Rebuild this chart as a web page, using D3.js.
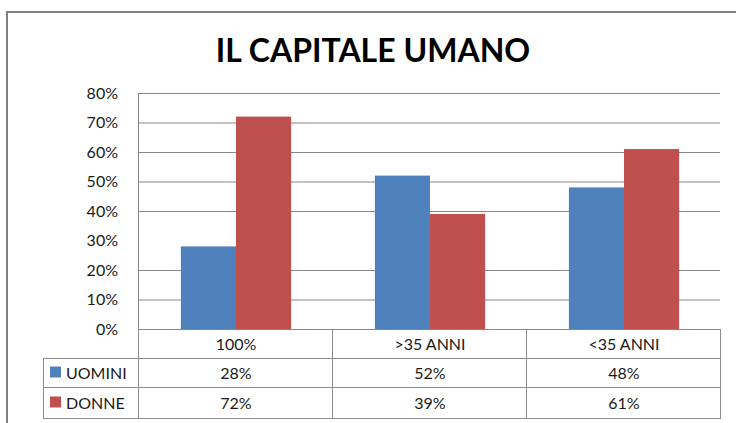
<!DOCTYPE html>
<html><head><meta charset="utf-8">
<script src="https://cdn.jsdelivr.net/npm/d3@7"></script>
<style>body{margin:0;background:#fff}svg{display:block}</style>
</head><body>
<svg id="c" width="736" height="423"></svg>
<script>
const categories = ["100%", ">35 ANNI", "<35 ANNI"];
const seriesNames = ["UOMINI", "DONNE"];
const uomini = [28, 52, 48];
const donne = [72, 39, 61];
const tickValues = [0, 10, 20, 30, 40, 50, 60, 70, 80];
const colors = ["#4F81BD", "#C0504D"];
const title = "IL CAPITALE UMANO";

(function () {
const svg = d3.select("#c");
const font = "Lato, 'Open Sans', sans-serif";
svg.append("rect").attr("x", 7).attr("y", 12).attr("width", 760).attr("height", 440)
  .attr("fill", "none").attr("stroke", "#7f7f7f").attr("stroke-width", 2);

svg.append("text").attr("x", 373).attr("y", 62).attr("text-anchor", "middle")
  .attr("font-family", font).attr("font-weight", "bold").attr("font-size", 32)
  .attr("fill", "#000").text(title);

const pLeft = 139, pRight = 721, pTop = 93, pBottom = 329;
const x = d3.scaleBand().domain(categories).range([pLeft, pRight]).paddingInner(0).paddingOuter(0);
const y = d3.scaleLinear().domain([0, 80]).range([pBottom, pTop]);
const xs = d3.scaleBand().domain(seriesNames).range([0, x.bandwidth()]).paddingInner(0).paddingOuter(0.76);

svg.append("g").selectAll("line").data(tickValues.filter(v => v !== 30)).join("line")
  .attr("x1", pLeft).attr("x2", pRight - 1).attr("y1", d => y(d) + 0.5).attr("y2", d => y(d) + 0.5)
  .attr("stroke", "#868686").attr("stroke-width", 1);

const yAxis = d3.axisLeft(y).tickValues(tickValues).tickFormat(d => d + "%").tickSize(0).tickPadding(21);
const gy = svg.append("g").attr("transform", `translate(${pLeft},0)`).call(yAxis);
gy.select(".domain").remove();
gy.selectAll("text").attr("font-family", font).attr("font-size", 16).attr("fill", "#1a1a1a");
svg.append("line").attr("x1", pLeft - 0.5).attr("x2", pLeft - 0.5).attr("y1", pTop).attr("y2", 419)
  .attr("stroke", "#868686");

const data = [uomini, donne];
data.forEach((vals, si) => {
  svg.append("g").selectAll("rect").data(vals).join("rect")
    .attr("x", (d, i) => x(categories[i]) + xs(seriesNames[si]))
    .attr("width", xs.bandwidth())
    .attr("y", d => y(d)).attr("height", d => pBottom - y(d))
    .attr("fill", colors[si]);
});

const rowY = [329, 358, 387, 418];
const legLeft = 43;
const g = svg.append("g").attr("stroke", "#8c8c8c").attr("stroke-width", 1);
[[pLeft, pRight, rowY[1]], [legLeft, pRight, rowY[1]], [legLeft, pRight, rowY[2]], [legLeft, pRight, rowY[3]]].forEach(([a, b, yy]) => {
  g.append("line").attr("x1", a).attr("x2", b).attr("y1", yy + 0.5).attr("y2", yy + 0.5);
});
const colEdges = categories.map(c => x(c)).concat([pRight]);
colEdges.forEach(cx => {
  g.append("line").attr("x1", cx - 0.5).attr("x2", cx - 0.5).attr("y1", pBottom).attr("y2", rowY[3] + 0.5);
});
g.append("line").attr("x1", legLeft + 0.5).attr("x2", legLeft + 0.5).attr("y1", rowY[1]).attr("y2", rowY[3] + 0.5);

const txt = svg.append("g").attr("font-family", font).attr("font-size", 16).attr("fill", "#1a1a1a");
categories.forEach((c, i) => {
  txt.append("text").attr("x", x(c) + x.bandwidth() / 2).attr("y", (rowY[0] + rowY[1]) / 2 + 6)
    .attr("text-anchor", "middle").text(c);
});
data.forEach((vals, si) => {
  const cy = (rowY[si + 1] + rowY[si + 2]) / 2;
  svg.append("rect").attr("x", 50).attr("y", cy - 6).attr("width", 11).attr("height", 11).attr("fill", colors[si]);
  txt.append("text").attr("x", 66).attr("y", cy + 6).text(seriesNames[si]);
  vals.forEach((v, i) => {
    txt.append("text").attr("x", x(categories[i]) + x.bandwidth() / 2).attr("y", cy + 6)
      .attr("text-anchor", "middle").text(v + "%");
  });
});
})();
</script>
</body></html>
